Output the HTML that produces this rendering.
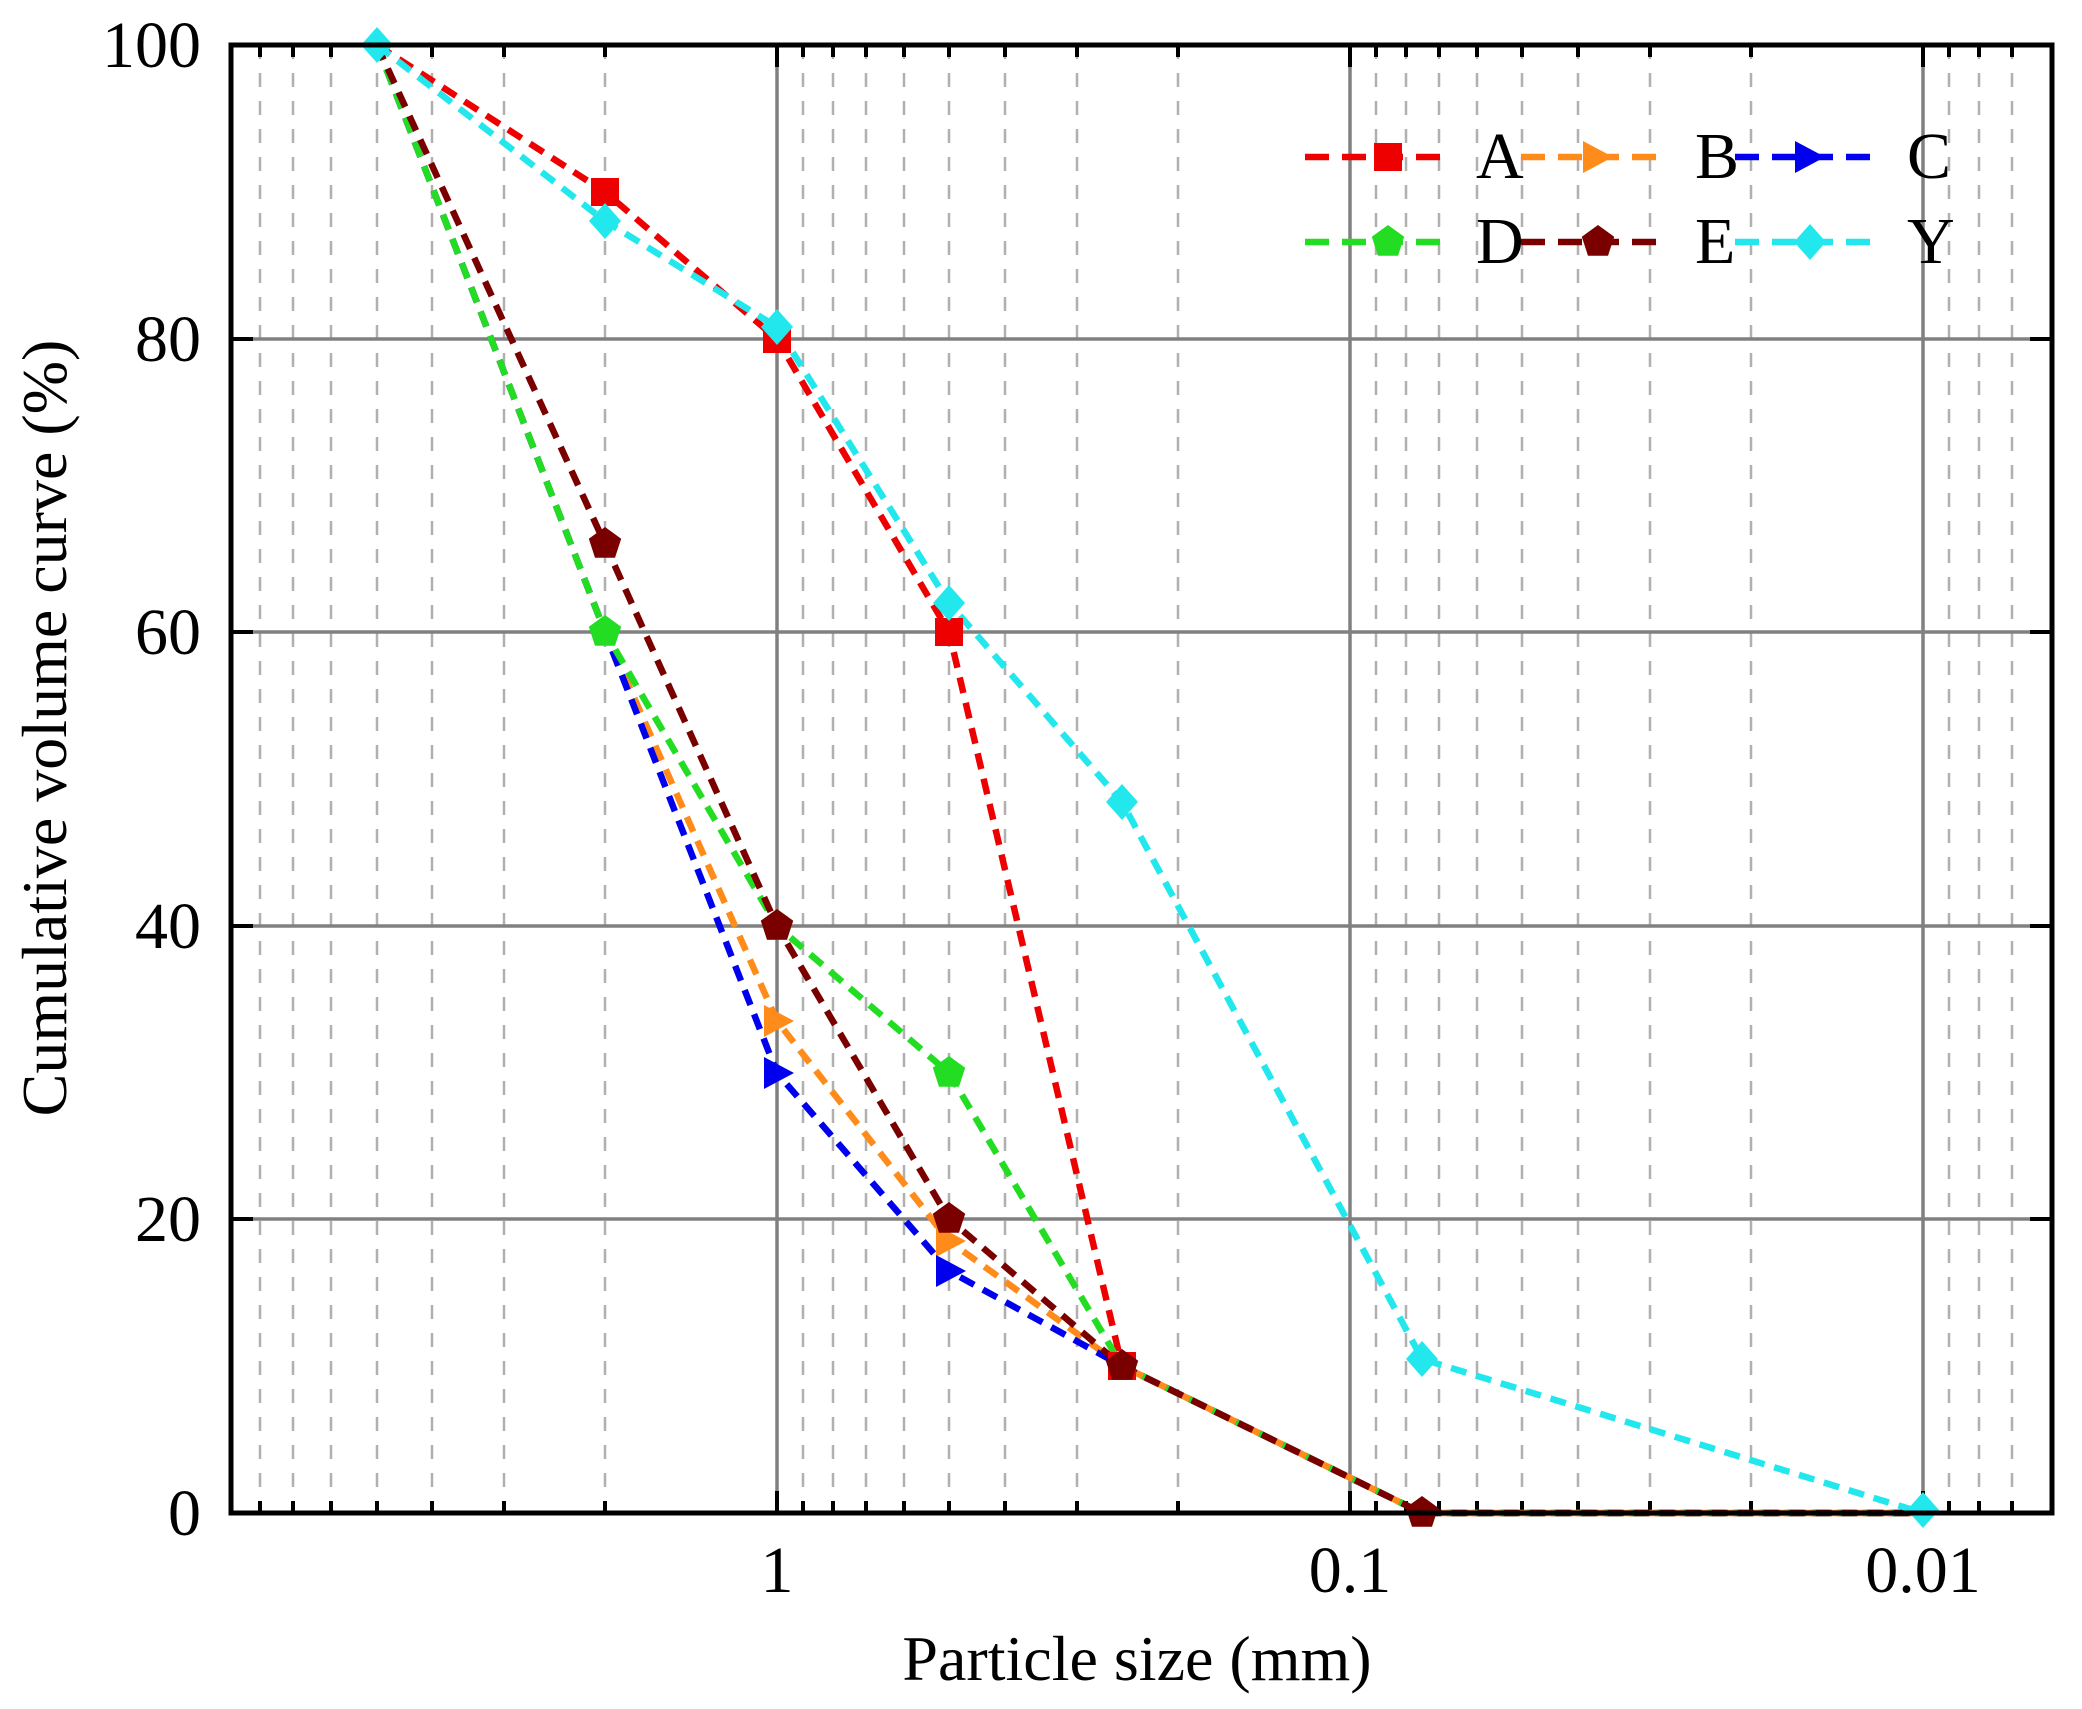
<!DOCTYPE html>
<html><head><meta charset="utf-8"><style>
html,body{margin:0;padding:0;background:#fff}
svg{display:block}
text{font-family:"Liberation Serif",serif;fill:#000}
</style></head><body>
<svg width="2082" height="1709" viewBox="0 0 2082 1709" xmlns="http://www.w3.org/2000/svg">
<defs>
<polygon id="sq" points="-14,-14 14,-14 14,14 -14,14"/>
<polygon id="tr" points="-13,-16 17,0 -13,16"/>
<polygon id="pt" points="0,-17 16.2,-5.3 10,13.8 -10,13.8 -16.2,-5.3"/>
<polygon id="dm" points="0,-18 16,0 0,18 -16,0"/>
</defs>
<g stroke="#b0b0b0" stroke-width="2.5" stroke-dasharray="14 14">
<path d="M260 45V1513M293 45V1513M331 45V1513M377 45V1513M432 45V1513M504 45V1513M605 45V1513M803 45V1513M833 45V1513M866 45V1513M904 45V1513M949 45V1513M1005 45V1513M1077 45V1513M1178 45V1513M1376 45V1513M1406 45V1513M1439 45V1513M1477 45V1513M1522 45V1513M1578 45V1513M1650 45V1513M1751 45V1513M1949 45V1513M1979 45V1513M2012 45V1513"/>
</g>
<g stroke="#808080" stroke-width="3.5">
<path d="M777 45V1513M1350 45V1513M1923 45V1513M231 339H2052M231 632H2052M231 926H2052M231 1219H2052"/>
</g>
<g stroke="#000" stroke-width="4">
<path d="M260 1513v-12M293 1513v-12M331 1513v-12M377 1513v-12M432 1513v-12M504 1513v-12M605 1513v-12M803 1513v-12M833 1513v-12M866 1513v-12M904 1513v-12M949 1513v-12M1005 1513v-12M1077 1513v-12M1178 1513v-12M1376 1513v-12M1406 1513v-12M1439 1513v-12M1477 1513v-12M1522 1513v-12M1578 1513v-12M1650 1513v-12M1751 1513v-12M1949 1513v-12M1979 1513v-12M2012 1513v-12"/>
<path d="M260 45v12M293 45v12M331 45v12M377 45v12M432 45v12M504 45v12M605 45v12M803 45v12M833 45v12M866 45v12M904 45v12M949 45v12M1005 45v12M1077 45v12M1178 45v12M1376 45v12M1406 45v12M1439 45v12M1477 45v12M1522 45v12M1578 45v12M1650 45v12M1751 45v12M1949 45v12M1979 45v12M2012 45v12"/>
<path d="M777 1513v-22M1350 1513v-22M1923 1513v-22M777 45v22M1350 45v22M1923 45v22"/>
<path d="M231 339h22M231 632h22M231 926h22M231 1219h22M2052 339h-22M2052 632h-22M2052 926h-22M2052 1219h-22"/>
</g>
<g fill="none" stroke-width="6.5" stroke-dasharray="16 10">
<polyline stroke="#ee0000" points="377,45 605,192 777,339 949,632 1122,1366 1422,1513 1923,1513"/>
<polyline stroke="#ff8c1a" points="377,45 605,632 777,1021 949,1241 1122,1366 1422,1513 1923,1513"/>
<polyline stroke="#0000ee" points="377,45 605,632 777,1073 949,1271 1122,1366 1422,1513 1923,1513"/>
<polyline stroke="#22dd22" points="377,45 605,632 777,926 949,1073 1122,1366 1422,1513 1923,1513"/>
<polyline stroke="#7a0000" points="377,45 605,544 777,926 949,1219 1122,1366 1422,1513 1923,1513"/>
<polyline stroke="#22e8ee" points="377,45 605,221 777,327 949,603 1122,802 1422,1359 1923,1513"/>
</g>
<g fill="#ee0000"><use href="#sq" x="605" y="192"/><use href="#sq" x="777" y="339"/><use href="#sq" x="949" y="632"/><use href="#sq" x="1122" y="1366"/></g>
<g fill="#ff8c1a"><use href="#tr" x="777" y="1021"/><use href="#tr" x="949" y="1241"/></g>
<g fill="#0000ee"><use href="#tr" x="777" y="1073"/><use href="#tr" x="949" y="1271"/></g>
<g fill="#22dd22"><use href="#pt" x="605" y="632"/><use href="#pt" x="777" y="926"/><use href="#pt" x="949" y="1073"/></g>
<g fill="#7a0000"><use href="#pt" x="605" y="544"/><use href="#pt" x="777" y="926"/><use href="#pt" x="949" y="1219"/><use href="#pt" x="1122" y="1366"/><use href="#pt" x="1422" y="1513"/></g>
<g fill="#22e8ee"><use href="#dm" x="377" y="45"/><use href="#dm" x="605" y="221"/><use href="#dm" x="777" y="327"/><use href="#dm" x="949" y="603"/><use href="#dm" x="1122" y="802"/><use href="#dm" x="1422" y="1359"/><use href="#dm" x="1923" y="1510"/></g>
<rect x="231" y="45" width="1821" height="1468" fill="none" stroke="#000" stroke-width="5"/>
<g stroke-width="6.5" stroke-dasharray="24 13">
<line x1="1305" y1="157" x2="1447" y2="157" stroke="#ee0000"/>
<line x1="1521" y1="157" x2="1662" y2="157" stroke="#ff8c1a"/>
<line x1="1735" y1="157" x2="1876" y2="157" stroke="#0000ee"/>
<line x1="1305" y1="242" x2="1447" y2="242" stroke="#22dd22"/>
<line x1="1521" y1="242" x2="1662" y2="242" stroke="#7a0000"/>
<line x1="1735" y1="242" x2="1876" y2="242" stroke="#22e8ee"/>
</g>
<use href="#sq" x="1388" y="157" fill="#ee0000"/>
<use href="#tr" x="1596" y="157" fill="#ff8c1a"/>
<use href="#tr" x="1808" y="157" fill="#0000ee"/>
<use href="#pt" x="1388" y="242" fill="#22dd22"/>
<use href="#pt" x="1598" y="242" fill="#7a0000"/>
<use href="#dm" x="1810" y="242" fill="#22e8ee"/>
<g font-size="66">
<text x="1476" y="178">A</text><text x="1695" y="178">B</text><text x="1907" y="178">C</text>
<text x="1476" y="263">D</text><text x="1695" y="263">E</text><text x="1907" y="263">Y</text>
</g>
<g font-size="66" text-anchor="end">
<text x="201" y="67">100</text><text x="201" y="361">80</text><text x="201" y="654">60</text>
<text x="201" y="948">40</text><text x="201" y="1241">20</text><text x="201" y="1535">0</text>
</g>
<g font-size="66" text-anchor="middle">
<text x="777" y="1592">1</text><text x="1350" y="1592">0.1</text><text x="1923" y="1592">0.01</text>
</g>
<text x="1137" y="1680" font-size="64" text-anchor="middle">Particle size (mm)</text>
<text transform="translate(66,728) rotate(-90)" font-size="64" text-anchor="middle">Cumulative volume curve (%)</text>
</svg>
</body></html>
